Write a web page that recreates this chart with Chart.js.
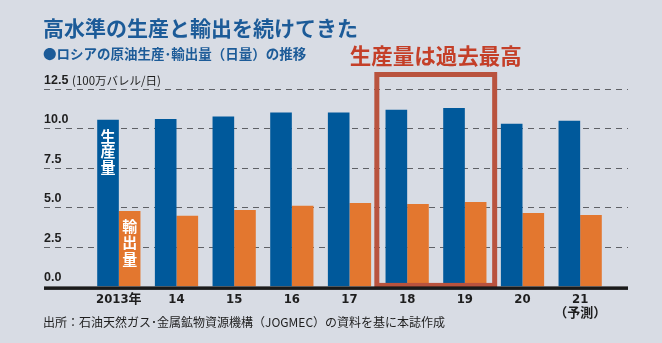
<!DOCTYPE html>
<html lang="ja">
<head>
<meta charset="utf-8">
<title>ロシアの原油生産・輸出量</title>
<script src="https://cdn.jsdelivr.net/npm/chart.js@4"></script>
<style>
    html, body { margin: 0; padding: 0; background: #d8dce4; }
    #wrap { position: relative; width: 662px; height: 343px; }
</style>
</head>
<body>
<div id="wrap"><canvas id="oilChart" width="662" height="343"></canvas></div>
<script>
// Data (million barrels per day)
const categories = ['2013年', '14', '15', '16', '17', '18', '19', '20', ['21', '（予測）']];
const production = [10.55, 10.6, 10.76, 11.01, 11.01, 11.18, 11.3, 10.3, 10.49];
const exportsVol = [4.77, 4.48, 4.84, 5.11, 5.28, 5.21, 5.34, 4.65, 4.52];
const yTicks = [0, 2.5, 5, 7.5, 10, 12.5];
const recordYears = ['18', '19'];

const BLUE = '#00599b';
const ORANGE = '#e3772f';
const RED = '#b9533e';
const JP = "'Noto Sans CJK JP', sans-serif";

// Custom drawing: titles, dashed grid, y labels, axis line, highlight box
const decorations = {
    id: 'decorations',
    beforeDatasetsDraw(chart) {
        const ctx = chart.ctx;
        const y = chart.scales.y;
        ctx.save();
        ctx.strokeStyle = '#5f6166';
        ctx.lineWidth = 1;
        ctx.setLineDash([6, 5]);
        yTicks.forEach(v => {
            if (v === 0) return;
            const py = Math.round(y.getPixelForValue(v)) + 0.5;
            ctx.beginPath();
            ctx.moveTo(44, py);
            ctx.lineTo(628, py);
            ctx.stroke();
        });
        ctx.setLineDash([]);
        ctx.fillStyle = '#1e1e1e';
        ctx.textBaseline = 'alphabetic';
        ctx.textAlign = 'left';
        yTicks.forEach(v => {
            ctx.font = "bold 12.5px 'Liberation Sans', sans-serif";
            const py = y.getPixelForValue(v);
            ctx.fillText(v.toFixed(1), 44, py - 5);
        });
        ctx.font = '11.5px ' + JP;
        ctx.fillText('(100万バレル/日)', 72, y.getPixelForValue(12.5) - 4);
        ctx.restore();
    },
    afterDatasetsDraw(chart) {
        const ctx = chart.ctx;
        const x = chart.scales.x;
        const y = chart.scales.y;
        const step = x.getPixelForValue(1) - x.getPixelForValue(0);
        ctx.save();

        // labels inside the 2013 bars
        const b0 = chart.getDatasetMeta(0).data[0];
        const b1 = chart.getDatasetMeta(1).data[0];
        ctx.fillStyle = '#ffffff';
        ctx.textAlign = 'center';
        ctx.textBaseline = 'middle';
        ctx.font = 'bold 15px ' + JP;
        ['生', '産', '量'].forEach((c, i) => ctx.fillText(c, b0.x, 136 + i * 15.5));
        ['輸', '出', '量'].forEach((c, i) => ctx.fillText(c, b1.x, 226 + i * 16.5));

        // highlight box around record years
        const i0 = categories.indexOf(recordYears[0]);
        const i1 = categories.indexOf(recordYears[1]);
        const left = x.getPixelForValue(i0) - step / 2 - 1.5;
        const right = x.getPixelForValue(i1) + step / 2 + 1;
        const top = 74.5;
        const bottom = y.getPixelForValue(0) - 1;
        ctx.strokeStyle = RED;
        ctx.lineWidth = 5;
        ctx.strokeRect(left, top, right - left, bottom - top);
        ctx.fillStyle = '#c43f28';
        ctx.font = 'bold 21.5px ' + JP;
        ctx.textBaseline = 'alphabetic';
        ctx.fillText('生産量は過去最高', (left + right) / 2, 64);

        // x axis baseline
        const py = y.getPixelForValue(0) + 1;
        ctx.fillStyle = '#1a1a1a';
        ctx.fillRect(44, py - 1, 584, 3.5);

        // titles and source
        ctx.textAlign = 'left';
        ctx.fillStyle = '#1c5b98';
        ctx.font = 'bold 21px ' + JP;
        ctx.fillText('高水準の生産と輸出を続けてきた', 43, 36);
        ctx.font = 'bold 13.5px ' + JP;
        ctx.fillText('●ロシアの原油生産･輸出量（日量）の推移', 43, 59);
        ctx.fillStyle = '#1e1e1e';
        ctx.font = '12px ' + JP;
        ctx.fillText('出所：石油天然ガス･金属鉱物資源機構（JOGMEC）の資料を基に本誌作成', 43, 327);
        ctx.restore();
    }
};

const ctx = document.getElementById('oilChart').getContext('2d');
new Chart(ctx, {
    type: 'bar',
    data: {
        labels: categories,
        datasets: [
            {
                label: '生産量',
                data: production,
                backgroundColor: BLUE,
                barPercentage: 1,
                categoryPercentage: 0.75
            },
            {
                label: '輸出量',
                data: exportsVol,
                backgroundColor: ORANGE,
                barPercentage: 1,
                categoryPercentage: 0.75
            }
        ]
    },
    options: {
        responsive: false,
        animation: false,
        layout: { padding: { left: 90, right: 53, top: 89, bottom: 16 } },
        plugins: {
            legend: { display: false },
            tooltip: { enabled: false }
        },
        scales: {
            x: {
                grid: { display: false, drawTicks: false },
                border: { display: false },
                ticks: {
                    color: '#1e1e1e',
                    padding: 6,
                    maxRotation: 0,
                    autoSkip: false,
                    font: { family: "'Liberation Sans Narrow', 'DejaVu Sans Condensed', 'Noto Sans CJK JP', sans-serif", size: 13, weight: 'bold', lineHeight: 1.1 }
                }
            },
            y: {
                display: false,
                min: 0,
                max: 12.5
            }
        }
    },
    plugins: [decorations]
});
</script>
</body>
</html>
